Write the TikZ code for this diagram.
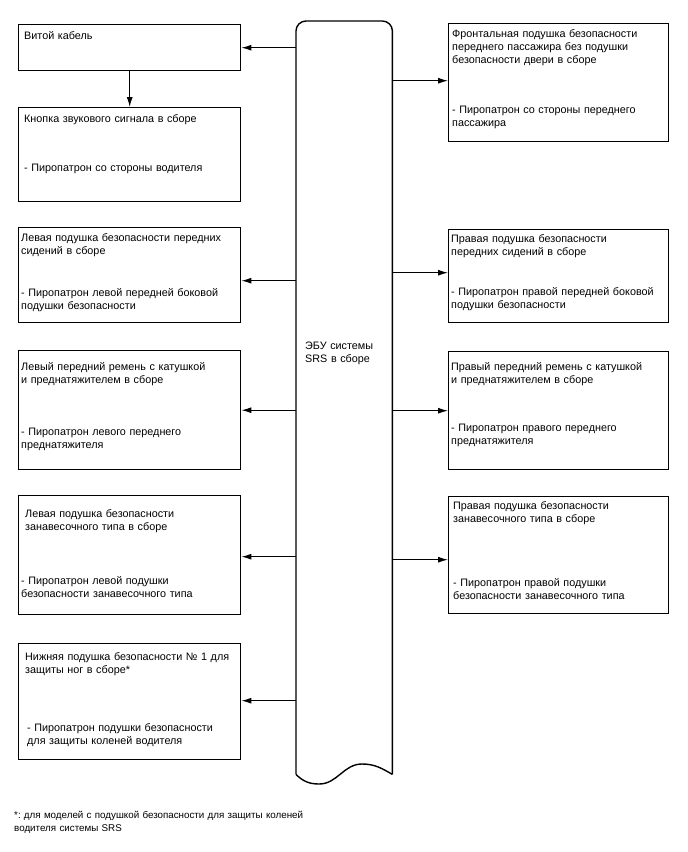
\documentclass[tikz,border=0pt]{standalone}
\usepackage{fontspec}
\setmainfont{Liberation Sans}
\usepackage{tikz}
\usetikzlibrary{arrows.meta}
\frenchspacing

\begin{document}
\begin{tikzpicture}[x=1pt, y=-1pt,
    box/.style={draw, line width=1.4pt, anchor=north west, inner sep=0pt,
                minimum width=222pt},
    txt/.style={anchor=base west, inner sep=0pt, align=left, text width=225pt,
                font=\fontsize{10.8}{13.3}\selectfont},
    conn/.style={line width=1.1pt, -{Latex[length=10pt, width=6pt]}}]
    \useasboundingbox (0,0) rectangle (688,852);

    %% central unit (scroll)
    \node[inner sep=0pt, minimum width=96pt, minimum height=753pt,
          anchor=north west] (ecu) at (296,21) {};
    \draw[line width=1.4pt, rounded corners=10pt]
      (ecu.south east) -- (ecu.north east) -- (ecu.north west) -- (ecu.south west);
    \draw[line width=1.4pt] (ecu.south west) to[out=-45, in=180] (319,784)
      to[out=0, in=180] (362,764) to[out=0, in=150] (ecu.south east);
    \node[txt, text width=80pt] (ecut) at (305,349) {ЭБУ системы\\SRS в сборе};

    %% left column
    \node[box, minimum height=46pt]  (l1) at (18,24) {};
    \node[box, minimum height=94pt]  (l2) at (18,107) {};
    \node[box, minimum height=95pt]  (l3) at (18,227) {};
    \node[box, minimum height=119pt] (l4) at (18,350) {};
    \node[box, minimum height=119pt] (l5) at (18,495) {};
    \node[box, minimum height=116pt] (l6) at (18,643) {};

    \node[txt] (l1t) at ([shift={(6,15)}]l1.north west) {Витой кабель};
    \node[txt] (l2t) at ([shift={(6,15)}]l2.north west) {Кнопка звукового сигнала в сборе};
    \node[txt] (l2p) at ([shift={(6,64)}]l2.north west) {- Пиропатрон со стороны водителя};
    \node[txt] (l3t) at ([shift={(3,14)}]l3.north west)
      {Левая подушка безопасности передних\\сидений в сборе};
    \node[txt] (l3p) at ([shift={(3,69)}]l3.north west)
      {- Пиропатрон левой передней боковой\\подушки безопасности};
    \node[txt] (l4t) at ([shift={(3,20)}]l4.north west)
      {Левый передний ремень с катушкой\\и преднатяжителем в сборе};
    \node[txt] (l4p) at ([shift={(3,85)}]l4.north west)
      {- Пиропатрон левого переднего\\преднатяжителя};
    \node[txt] (l5t) at ([shift={(7,22)}]l5.north west)
      {Левая подушка безопасности\\занавесочного типа в сборе};
    \node[txt] (l5p) at ([shift={(3,89)}]l5.north west)
      {- Пиропатрон левой подушки\\безопасности занавесочного типа};
    \node[txt] (l6t) at ([shift={(7,17)}]l6.north west)
      {Нижняя подушка безопасности № 1 для\\защиты ног в сборе*};
    \node[txt] (l6p) at ([shift={(9,88)}]l6.north west)
      {- Пиропатрон подушки безопасности\\для защиты коленей водителя};

    %% right column
    \node[box, minimum width=220pt, minimum height=118pt] (r1) at (448,23) {};
    \node[box, minimum width=220pt, minimum height=93pt]  (r2) at (448,229) {};
    \node[box, minimum width=220pt, minimum height=118pt] (r3) at (448,351) {};
    \node[box, minimum width=220pt, minimum height=117pt] (r4) at (448,496) {};

    \node[txt] (r1t) at ([shift={(4,14)}]r1.north west)
      {Фронтальная подушка безопасности\\переднего пассажира без подушки\\безопасности двери в сборе};
    \node[txt] (r1p) at ([shift={(4,90)}]r1.north west)
      {- Пиропатрон со стороны переднего\\пассажира};
    \node[txt] (r2t) at ([shift={(3,13)}]r2.north west)
      {Правая подушка безопасности\\передних сидений в сборе};
    \node[txt] (r2p) at ([shift={(3,66)}]r2.north west)
      {- Пиропатрон правой передней боковой\\подушки безопасности};
    \node[txt] (r3t) at ([shift={(3,19)}]r3.north west)
      {Правый передний ремень с катушкой\\и преднатяжителем в сборе};
    \node[txt] (r3p) at ([shift={(3,80)}]r3.north west)
      {- Пиропатрон правого переднего\\преднатяжителя};
    \node[txt] (r4t) at ([shift={(5,13)}]r4.north west)
      {Правая подушка безопасности\\занавесочного типа в сборе};
    \node[txt] (r4p) at ([shift={(5,90)}]r4.north west)
      {- Пиропатрон правой подушки\\безопасности занавесочного типа};

    %% arrow end points
    \coordinate (l3a) at ([shift={(0,5.5)}]l3.east);
    \coordinate (l5a) at ([shift={(0,1.5)}]l5.east);
    \coordinate (l6a) at ([shift={(0,-1)}]l6.east);
    \coordinate (r1a) at ([shift={(0,-2)}]r1.west);
    \coordinate (r2a) at ([shift={(0,-3.5)}]r2.west);
    \coordinate (r4a) at ([shift={(0,4.5)}]r4.west);

    %% connectors
    \draw[conn] (ecu.west |- l1.east) -- (l1.east);
    \draw[conn] (l1.south) -- (l2.north);
    \draw[conn] (ecu.west |- l3a) -- (l3a);
    \draw[conn] (ecu.west |- l4.east) -- (l4.east);
    \draw[conn] (ecu.west |- l5a) -- (l5a);
    \draw[conn] (ecu.west |- l6a) -- (l6a);
    \draw[conn] (ecu.east |- r1a) -- (r1a);
    \draw[conn] (ecu.east |- r2a) -- (r2a);
    \draw[conn] (ecu.east |- r3.west) -- (r3.west);
    \draw[conn] (ecu.east |- r4a) -- (r4a);

    %% footnote
    \node[txt, text width=400pt, font=\fontsize{9.8}{13}\selectfont] (foot) at (14,818.5)
      {*: для моделей с подушкой безопасности для защиты коленей\\водителя системы SRS};
\end{tikzpicture}
\end{document}
